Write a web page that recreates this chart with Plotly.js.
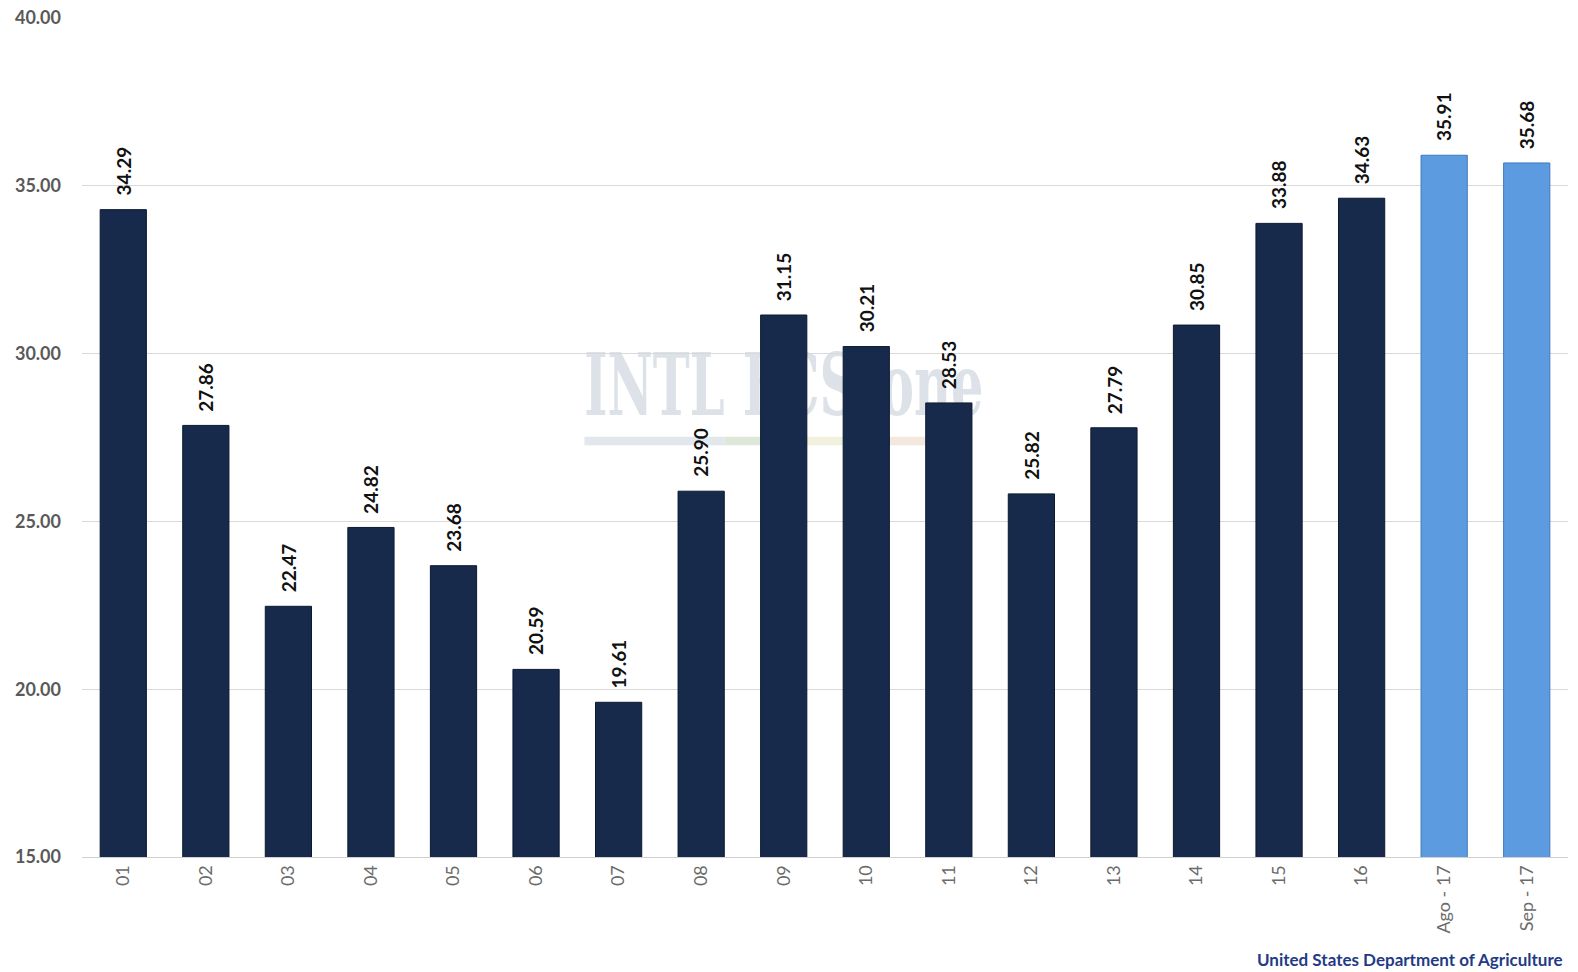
<!DOCTYPE html>
<html>
<head>
<meta charset="utf-8">
<script src="https://cdn.plot.ly/plotly-3.0.1.min.js"></script>
<style>
  html, body { margin: 0; padding: 0; background: #ffffff; }
  #chart { width: 1578px; height: 972px; }
</style>
</head>
<body>
<div id="chart"></div>
<script>
// Category labels along the x axis
const categories = ['01', '02', '03', '04', '05', '06', '07', '08', '09', '10',
  '11', '12', '13', '14', '15', '16', 'Ago - 17', 'Sep - 17'];

// Values
const values = [34.29, 27.86, 22.47, 24.82, 23.68, 20.59, 19.61, 25.90, 31.15, 30.21,
  28.53, 25.82, 27.79, 30.85, 33.88, 34.63, 35.91, 35.68];

// Last two bars are the current estimates (light blue)
const isEstimate = categories.map(c => c.indexOf('-') !== -1);

const DARK = '#172a4b';
const LIGHT = '#5d9be0';
const FONT = 'Lato, "DejaVu Sans", sans-serif';

const watermark = 'data:image/svg+xml;utf8,' + encodeURIComponent(
  '<svg xmlns="http://www.w3.org/2000/svg" width="400" height="110">' +
  '<text x="0" y="72" font-family="DejaVu Serif" font-weight="bold" font-size="80" fill="#dde2e9" textLength="140" lengthAdjust="spacingAndGlyphs">INTL</text>' +
  '<text x="158" y="72" font-family="DejaVu Serif" font-weight="bold" font-size="80" fill="#dde2e9" textLength="240" lengthAdjust="spacingAndGlyphs">FCStone</text>' +
  '<rect x="0" y="92" width="140" height="8" fill="#e2e7ed"/>' +
  '<rect x="140" y="92" width="60" height="8" fill="#dde8da"/>' +
  '<rect x="200" y="92" width="70" height="8" fill="#f2f1de"/>' +
  '<rect x="270" y="92" width="70" height="8" fill="#f4e7de"/>' +
  '</svg>');

const trace = {
  type: 'bar',
  x: categories,
  y: values,
  marker: {
    color: isEstimate.map(e => e ? LIGHT : DARK),
    line: { color: isEstimate.map(e => e ? '#3f78bd' : '#0c1a31'), width: 1 }
  },
  hoverinfo: 'x+y'
};

// Value labels, rotated, sitting a little above each bar
// (x given as category index so '08' etc. are not read as numbers)
const valueLabels = categories.map((c, i) => ({
  x: i,
  y: values[i],
  xref: 'x', yref: 'y',
  text: values[i].toFixed(2),
  textangle: -90,
  showarrow: false,
  xanchor: 'center', yanchor: 'bottom',
  yshift: 12,
  font: { family: FONT, size: 19, color: '#111111', weight: 'bold' }
}));

const layout = {
  width: 1578,
  height: 972,
  margin: { l: 82, r: 10, t: 18, b: 115 },
  paper_bgcolor: '#ffffff',
  plot_bgcolor: 'rgba(0,0,0,0)',
  bargap: 0.44,
  showlegend: false,
  font: { family: FONT },
  xaxis: {
    type: 'category',
    tickangle: -90,
    ticks: '',
    showgrid: false,
    showline: true,
    linecolor: '#d0d0d0',
    linewidth: 1,
    tickfont: { size: 18, color: '#6b6b6b' }
  },
  yaxis: {
    range: [15, 40],
    dtick: 5,
    tickformat: '.2f',
    ticks: '',
    showgrid: true,
    gridcolor: '#d9d9d9',
    gridwidth: 1,
    zeroline: false,
    showline: false,
    ticklabelstandoff: 20,
    tickfont: { size: 18, color: '#595959', weight: 'bold' }
  },
  images: [{
    source: watermark,
    xref: 'paper', yref: 'paper',
    x: 0.338, y: 0.618,
    sizex: 0.27, sizey: 0.14,
    xanchor: 'left', yanchor: 'top',
    sizing: 'stretch',
    layer: 'below'
  }],
  annotations: valueLabels.concat([{
    text: 'United States Department of Agriculture',
    xref: 'paper', yref: 'paper',
    x: 0.998, y: -0.122,
    xanchor: 'right', yanchor: 'middle',
    showarrow: false,
    font: { size: 17, color: '#1f3b86', weight: 'bold' }
  }])
};

Plotly.newPlot('chart', [trace], layout, { displayModeBar: false, staticPlot: true });
</script>
</body>
</html>
